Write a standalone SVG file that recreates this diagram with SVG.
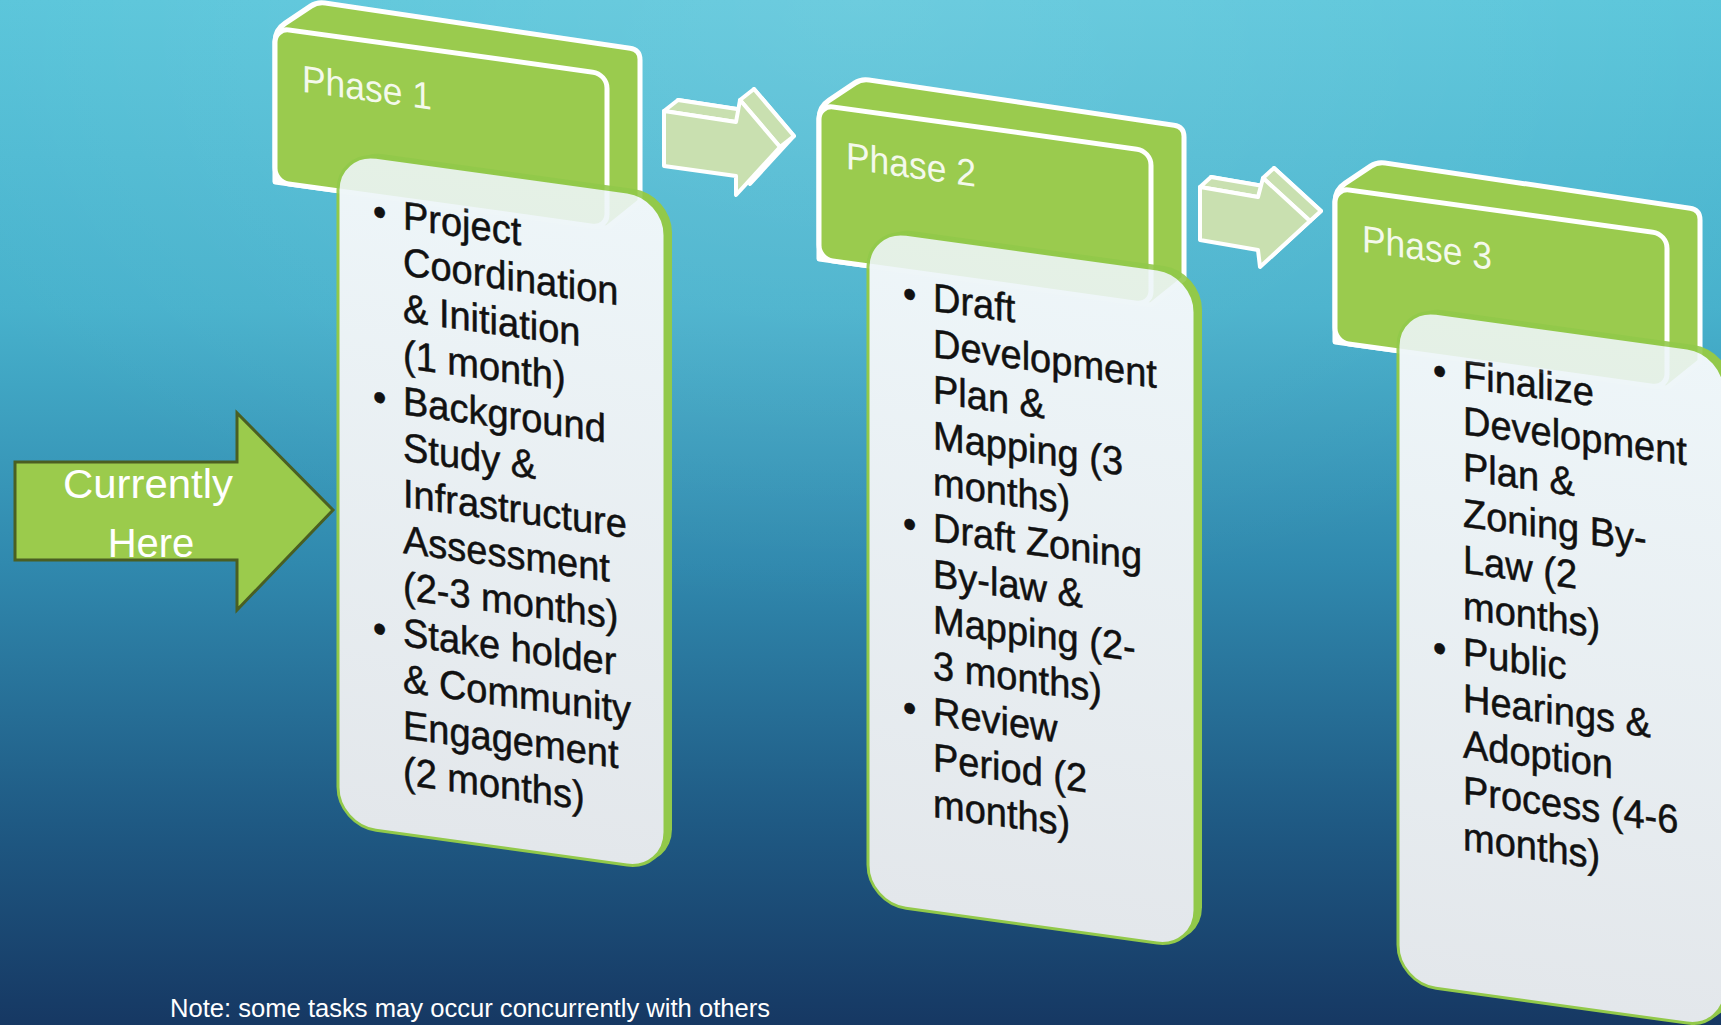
<svg xmlns="http://www.w3.org/2000/svg" width="1721" height="1025" viewBox="0 0 1721 1025">
<defs>
<linearGradient id="bg" x1="0" y1="0" x2="0" y2="1">
<stop offset="0" stop-color="#59C5DA"/>
<stop offset="0.3" stop-color="#47B1CC"/>
<stop offset="0.55" stop-color="#3089AE"/>
<stop offset="0.8" stop-color="#1F5A84"/>
<stop offset="1" stop-color="#163863"/>
</linearGradient>
<radialGradient id="glow" cx="0.5" cy="0" r="0.6">
<stop offset="0" stop-color="#ffffff" stop-opacity="0.12"/>
<stop offset="1" stop-color="#ffffff" stop-opacity="0"/>
</radialGradient>
<linearGradient id="cardFill" x1="0" y1="0" x2="0" y2="1">
<stop offset="0" stop-color="#EEF6F9"/>
<stop offset="1" stop-color="#E3E7EB"/>
</linearGradient>
<style>
.hdr{fill:#9ACB4E;stroke:#ffffff;stroke-width:5;stroke-linejoin:round}
.tint{opacity:0.1}
.side{fill:#92C94A}
.card{fill:url(#cardFill);stroke:#92C94A;stroke-width:3}
.ct{font-family:"Liberation Sans",Arial,sans-serif;font-size:40px;fill:#111111;stroke:#111111;stroke-width:0.5}
.ht{font-family:"Liberation Sans",Arial,sans-serif;font-size:38px;fill:#ffffff}
.arr{fill:#C9E0B0;stroke:#ffffff;stroke-width:4;stroke-linejoin:round}
.wt{font-family:"Liberation Sans",Arial,sans-serif;fill:#ffffff}
</style>
<path id="hdrBack" d="M0,154 L0,14 Q0,2 10,-6 L36,-27 Q42,-32 50,-32 L355,-29 Q365,-29 365,-19 L365,123 L332,154 Z"/>
<rect id="hdrFront" x="0" y="0" width="332" height="154" rx="14"/>
</defs>
<rect x="0" y="0" width="1721" height="1025" fill="url(#bg)"/>
<rect x="0" y="0" width="1721" height="1025" fill="url(#glow)"/>

<g id="connectors">
<g id="arrow-1-2">
<polygon class="arr" points="678,100 750,111 754,89 794,136 750,184 750,165 678,155"/>
<polygon class="arr" points="664,111 678,100 750,111 736,122"/>
<polygon class="arr" points="740,100 754,89 794,136 780,147"/>
<polygon class="arr" points="664,111 736,122 740,100 780,147 736,195 736,176 664,166"/>
</g>
<g id="arrow-2-3">
<polygon class="arr" points="1211,177 1269,187 1274,168 1321,211 1271,257 1269,240 1211,230"/>
<polygon class="arr" points="1200,187 1211,177 1269,187 1258,197"/>
<polygon class="arr" points="1263,178 1274,168 1321,211 1310,221"/>
<polygon class="arr" points="1200,187 1258,197 1263,178 1310,221 1260,267 1258,250 1200,240"/>
</g>
</g>

<g id="phase1">
<g id="phase1-header" transform="translate(275,28) skewY(7.9)">
<use href="#hdrBack" class="hdr"/>
<use href="#hdrFront" class="hdr"/>
<text class="ht" x="27" y="60" textLength="130" lengthAdjust="spacingAndGlyphs">Phase 1</text>
</g>
<g id="phase1-card" transform="translate(338,152) skewY(7.9)">
<rect class="side" x="7" y="-4" width="327" height="673" rx="38"/>
<rect class="card" x="0" y="0" width="327" height="673" rx="38"/>
<g class="ct" transform="scale(0.95,1)">
<text x="36.8" y="68">•</text>
<text x="36.8" y="253.2">•</text>
<text x="36.8" y="484.7">•</text>
<text x="68.4" y="68">Project<tspan x="68.4" dy="46.3">Coordination</tspan><tspan x="68.4" dy="46.3">&amp; Initiation</tspan><tspan x="68.4" dy="46.3">(1 month)</tspan><tspan x="68.4" dy="46.3">Background</tspan><tspan x="68.4" dy="46.3">Study &amp;</tspan><tspan x="68.4" dy="46.3">Infrastructure</tspan><tspan x="68.4" dy="46.3">Assessment</tspan><tspan x="68.4" dy="46.3">(2-3 months)</tspan><tspan x="68.4" dy="46.3">Stake holder</tspan><tspan x="68.4" dy="46.3">&amp; Community</tspan><tspan x="68.4" dy="46.3">Engagement</tspan><tspan x="68.4" dy="46.3">(2 months)</tspan></text>
</g>
</g>
<g class="tint" transform="translate(275,28) skewY(7.9)">
<use href="#hdrBack" class="hdr"/>
<use href="#hdrFront" class="hdr"/>
</g>
</g>

<g id="phase2">
<g id="phase2-header" transform="translate(819,105) skewY(7.9)">
<use href="#hdrBack" class="hdr"/>
<use href="#hdrFront" class="hdr"/>
<text class="ht" x="27" y="60" textLength="130" lengthAdjust="spacingAndGlyphs">Phase 2</text>
</g>
<g id="phase2-card" transform="translate(868,229) skewY(7.9)">
<rect class="side" x="7" y="-4" width="327" height="674" rx="38"/>
<rect class="card" x="0" y="0" width="327" height="674" rx="38"/>
<g class="ct" transform="scale(0.95,1)">
<text x="36.8" y="73">•</text>
<text x="36.8" y="303">•</text>
<text x="36.8" y="487">•</text>
<text x="68.4" y="73">Draft<tspan x="68.4" dy="46">Development</tspan><tspan x="68.4" dy="46">Plan &amp;</tspan><tspan x="68.4" dy="46">Mapping (3</tspan><tspan x="68.4" dy="46">months)</tspan><tspan x="68.4" dy="46">Draft Zoning</tspan><tspan x="68.4" dy="46">By-law &amp;</tspan><tspan x="68.4" dy="46">Mapping (2-</tspan><tspan x="68.4" dy="46">3 months)</tspan><tspan x="68.4" dy="46">Review</tspan><tspan x="68.4" dy="46">Period (2</tspan><tspan x="68.4" dy="46">months)</tspan></text>
</g>
</g>
<g class="tint" transform="translate(819,105) skewY(7.9)">
<use href="#hdrBack" class="hdr"/>
<use href="#hdrFront" class="hdr"/>
</g>
</g>

<g id="phase3">
<g id="phase3-header" transform="translate(1335,188) skewY(7.9)">
<use href="#hdrBack" class="hdr"/>
<use href="#hdrFront" class="hdr"/>
<text class="ht" x="27" y="60" textLength="130" lengthAdjust="spacingAndGlyphs">Phase 3</text>
</g>
<g id="phase3-card" transform="translate(1398,308) skewY(7.9)">
<rect class="side" x="7" y="-4" width="327" height="675" rx="38"/>
<rect class="card" x="0" y="0" width="327" height="675" rx="38"/>
<g class="ct" transform="scale(0.95,1)">
<text x="36.8" y="71">•</text>
<text x="36.8" y="348.2">•</text>
<text x="68.4" y="71">Finalize<tspan x="68.4" dy="46.2">Development</tspan><tspan x="68.4" dy="46.2">Plan &amp;</tspan><tspan x="68.4" dy="46.2">Zoning By-</tspan><tspan x="68.4" dy="46.2">Law (2</tspan><tspan x="68.4" dy="46.2">months)</tspan><tspan x="68.4" dy="46.2">Public</tspan><tspan x="68.4" dy="46.2">Hearings &amp;</tspan><tspan x="68.4" dy="46.2">Adoption</tspan><tspan x="68.4" dy="46.2">Process (4-6</tspan><tspan x="68.4" dy="46.2">months)</tspan></text>
</g>
</g>
<g class="tint" transform="translate(1335,188) skewY(7.9)">
<use href="#hdrBack" class="hdr"/>
<use href="#hdrFront" class="hdr"/>
</g>
</g>

<g id="current">
<polygon points="15,462 237,462 237,413 333,510 237,610 237,560 15,560" fill="#9BCB4C" stroke="#4A5F22" stroke-width="3" stroke-linejoin="miter"/>
<text class="wt" x="148" y="498" font-size="40" text-anchor="middle" textLength="170" lengthAdjust="spacingAndGlyphs">Currently</text>
<text class="wt" x="151" y="557" font-size="40" text-anchor="middle">Here</text>
</g>

<g id="note">
<text class="wt" x="170" y="1017" font-size="26" textLength="600" lengthAdjust="spacingAndGlyphs">Note: some tasks may occur concurrently with others</text>
</g>
</svg>
